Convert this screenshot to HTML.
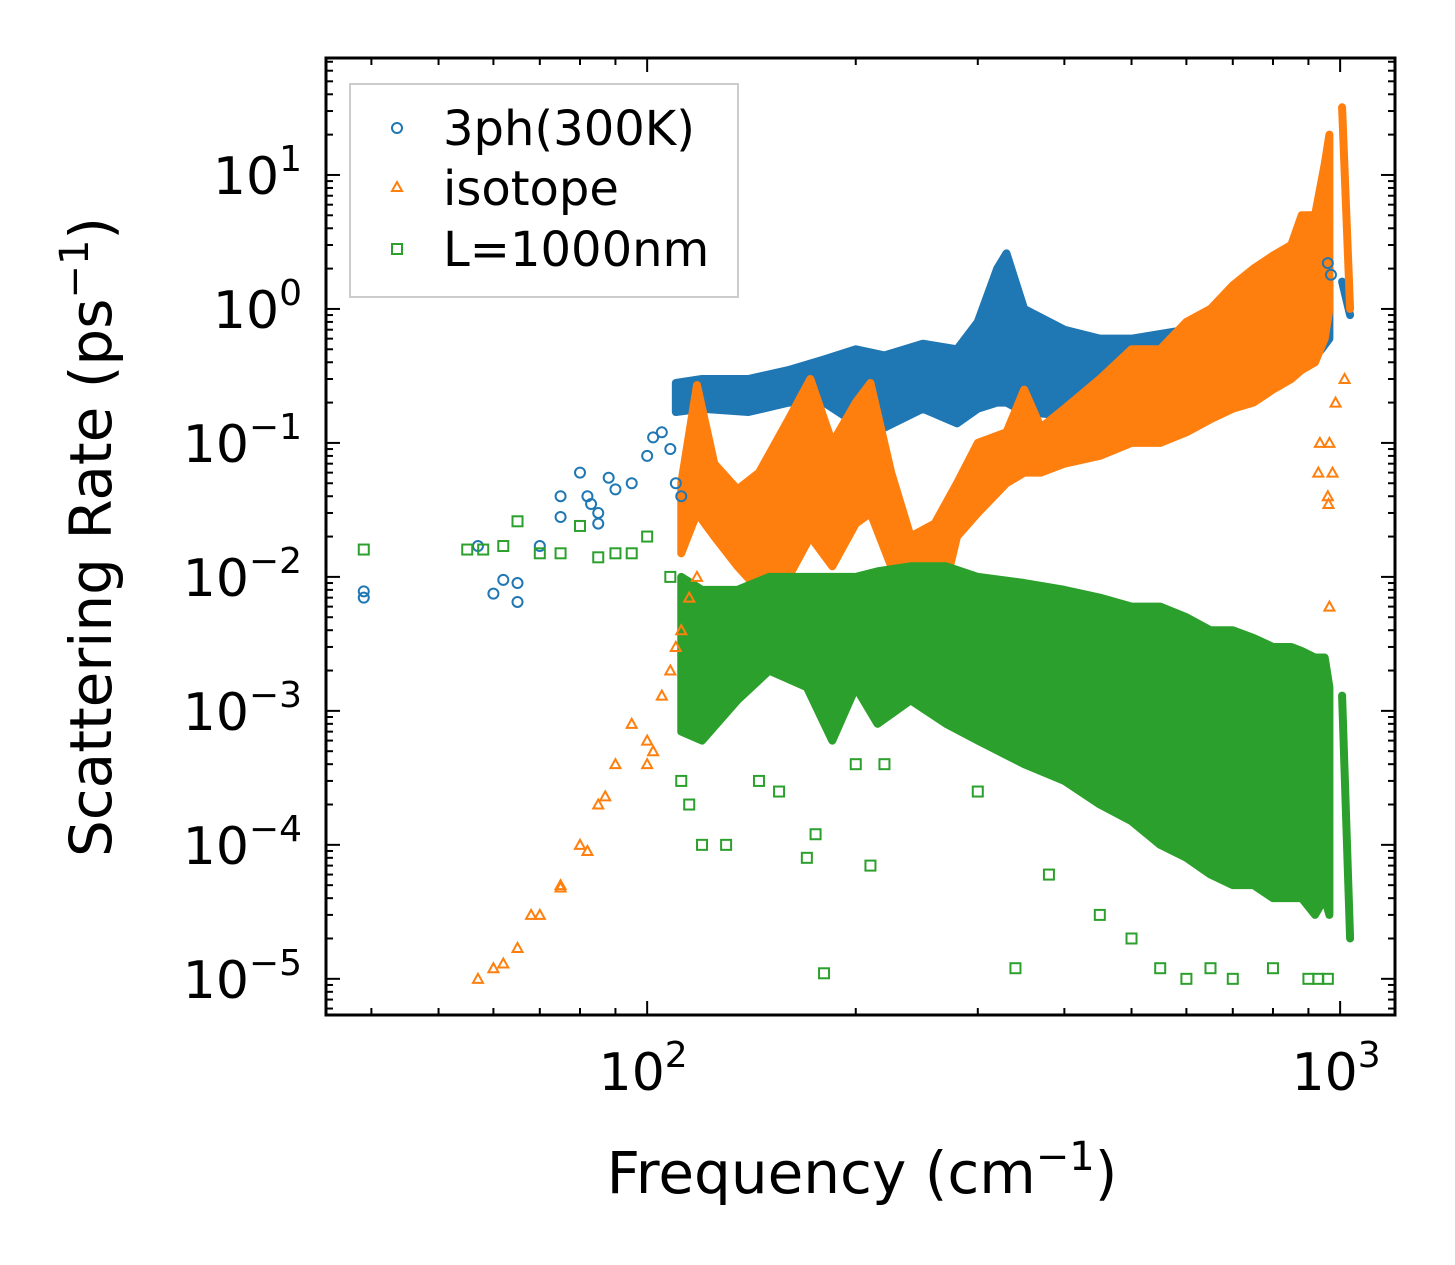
<!DOCTYPE html>
<html><head><meta charset="utf-8"><style>
html,body{margin:0;padding:0;background:#fff;}
svg{display:block;font-family:"DejaVu Sans","Liberation Sans",sans-serif;}
</style></head><body>
<svg id="chart" width="1455" height="1265" viewBox="0 0 1455 1265" xmlns="http://www.w3.org/2000/svg">
<g id="bands"></g>
<g id="points"></g>
<rect x="326" y="58" width="1069" height="957" fill="none" stroke="#000" stroke-width="3"/>
<g id="ticks"></g>
<text x="862" y="1193" font-size="58" text-anchor="middle">Frequency (cm<tspan font-size="40" dy="-23">−1</tspan><tspan dy="23">)</tspan></text>
<text transform="translate(111,537) rotate(-90)" font-size="58" text-anchor="middle">Scattering Rate (ps<tspan font-size="40" dy="-23">−1</tspan><tspan dy="23">)</tspan></text>
<g>
<rect x="350" y="84" width="388" height="213" fill="#fff" stroke="#ccc" stroke-width="2"/>
<circle cx="397" cy="128" r="5" fill="none" stroke="#1f77b4" stroke-width="2"/>
<text x="443" y="145" font-size="48">3ph(300K)</text>
<polygon points="397,182 402,191 392,191" fill="none" stroke="#ff7f0e" stroke-width="2"/>
<text x="443" y="205" font-size="48">isotope</text>
<rect x="392" y="244" width="10" height="10" fill="none" stroke="#2ca02c" stroke-width="2"/>
<text x="443" y="266" font-size="48">L=1000nm</text>
</g>
</svg>
<script>
// ---- data ----
const blueBandF  = [110,120,140,160,180,200,220,250,280,300,320,330,350,400,450,500,600,700,800,900,940,965];
const blueBandLo = [0.17,0.18,0.17,0.2,0.2,0.14,0.13,0.18,0.14,0.18,0.2,0.2,0.17,0.16,0.17,0.2,0.2,0.2,0.3,0.4,0.5,0.6];
const blueBandHi = [0.28,0.3,0.3,0.35,0.42,0.5,0.45,0.55,0.5,0.8,2.0,2.6,1.0,0.7,0.6,0.6,0.7,0.75,0.85,0.9,1.5,2.0];
const orangeBandF  = [112,118,125,135,145,160,172,185,200,210,225,240,260,280,300,330,350,370,400,450,500,550,600,650,700,750,800,850,880,920,950,965];
const orangeBandLo = [0.015,0.03,0.02,0.012,0.008,0.01,0.02,0.012,0.025,0.03,0.012,0.006,0.004,0.02,0.03,0.05,0.06,0.06,0.07,0.08,0.1,0.1,0.12,0.15,0.18,0.2,0.25,0.3,0.35,0.4,0.6,1.0];
const orangeBandHi = [0.05,0.27,0.07,0.045,0.06,0.15,0.3,0.1,0.2,0.28,0.06,0.02,0.025,0.05,0.1,0.12,0.25,0.13,0.18,0.3,0.5,0.5,0.8,1.0,1.5,2.0,2.5,3.0,5.0,5.0,12,20];
const greenBandF  = [112,120,135,150,170,185,200,215,240,270,300,350,400,450,500,550,600,650,700,750,800,850,880,920,950,965];
const greenBandLo = [0.0007,0.0006,0.0012,0.002,0.0015,0.0006,0.0015,0.0008,0.0012,0.0008,0.0006,0.0004,0.0003,0.0002,0.00015,0.0001,0.00008,0.00006,0.00005,0.00005,0.00004,0.00004,0.00004,0.00003,0.00004,0.00003];
const greenBandHi = [0.01,0.008,0.008,0.01,0.01,0.01,0.01,0.011,0.012,0.012,0.01,0.009,0.008,0.007,0.006,0.006,0.005,0.004,0.004,0.0035,0.003,0.003,0.0028,0.0025,0.0025,0.0015];
const blueSpikeF=[1020,1020]; const blueSpikeLo=[0.9,0.9]; const blueSpikeHi=[1.6,1.6];
const orangeSpikeF=[1020,1020]; const orangeSpikeLo=[1.0,1.0]; const orangeSpikeHi=[32,32];
const greenSpikeF=[1020,1020]; const greenSpikeLo=[0.00002,0.00002]; const greenSpikeHi=[0.0013,0.0013];

const blueF=[39,39,57,60,62,65,65,70,75,75,80,82,83,85,85,88,90,95,100,102,105,108,110,112,960,970];
const blueV=[0.007,0.0078,0.017,0.0075,0.0095,0.009,0.0065,0.017,0.04,0.028,0.06,0.04,0.035,0.03,0.025,0.055,0.045,0.05,0.08,0.11,0.12,0.09,0.05,0.04,2.2,1.8];
const orangeF=[57,60,62,65,68,70,75,75,80,82,85,87,90,95,100,100,102,105,108,110,112,115,118,960,962,965,975,965,985,1015,930,935];
const orangeV=[0.00001,0.000012,0.000013,0.000017,0.00003,0.00003,0.00005,0.000048,0.0001,0.00009,0.0002,0.00023,0.0004,0.0008,0.0006,0.0004,0.0005,0.0013,0.002,0.003,0.004,0.007,0.01,0.04,0.035,0.1,0.06,0.006,0.2,0.3,0.06,0.1];
const greenF=[39,55,58,62,65,70,75,80,85,90,95,100,108,112,115,120,130,145,155,170,175,180,200,210,220,300,340,380,450,500,550,600,650,700,800,900,930,960];
const greenV=[0.016,0.016,0.016,0.017,0.026,0.015,0.015,0.024,0.014,0.015,0.015,0.02,0.01,0.0003,0.0002,0.0001,0.0001,0.0003,0.00025,0.00008,0.00012,0.000011,0.0004,0.00007,0.0004,0.00025,0.000012,0.00006,0.00003,0.00002,0.000012,0.00001,0.000012,0.00001,0.000012,0.00001,0.00001,0.00001];

const xTickVals=[100,1000];
const yTickExps=[-5,-4,-3,-2,-1,0,1];

// ---- axes ----
const X0=326,X1=1395,Y0=58,Y1=1015;
const xLogMin=Math.log10(34.4), xLogMax=Math.log10(1200);
const yLogMin=-5.27, yLogMax=1.873;
function sx(v){return X0+(Math.log10(v)-xLogMin)/(xLogMax-xLogMin)*(X1-X0);}
function sy(v){return Y1-(Math.log10(v)-yLogMin)/(yLogMax-yLogMin)*(Y1-Y0);}
const NS="http://www.w3.org/2000/svg";
function mk(t,p,attrs){const e=document.createElementNS(NS,t);for(const k in attrs)e.setAttribute(k,attrs[k]);p.appendChild(e);return e;}

const bands=document.getElementById('bands');
function band(F,Lo,Hi,col,name,w){
  let pts=[];
  for(let i=0;i<F.length;i++)pts.push((sx(F[i])-(w||0))+','+sy(Hi[i]));
  for(let i=F.length-1;i>=0;i--)pts.push((sx(F[i])+(w||0))+','+sy(Lo[i]));
  const p=mk('polygon',bands,{points:pts.join(' '),fill:col,stroke:col,'stroke-width':8,'stroke-linejoin':'round'});
  
  
}
band(blueBandF,blueBandLo,blueBandHi,'#1f77b4','band-3ph');
band(blueSpikeF,blueSpikeLo,blueSpikeHi,'#1f77b4','spike-3ph',4);
band(orangeBandF,orangeBandLo,orangeBandHi,'#ff7f0e','band-isotope');
band(orangeSpikeF,orangeSpikeLo,orangeSpikeHi,'#ff7f0e','spike-isotope',4);
band(greenBandF,greenBandLo,greenBandHi,'#2ca02c','band-boundary');
band(greenSpikeF,greenSpikeLo,greenSpikeHi,'#2ca02c','spike-boundary',4);

const pg=document.getElementById('points');
for(let i=0;i<blueF.length;i++){
  const e=mk('circle',pg,{cx:sx(blueF[i]),cy:sy(blueV[i]),r:5,fill:'none',stroke:'#1f77b4','stroke-width':2});
  
  
}
for(let i=0;i<orangeF.length;i++){
  const x=sx(orangeF[i]),y=sy(orangeV[i]);
  const e=mk('polygon',pg,{points:`${x},${y-5} ${x+5},${y+4} ${x-5},${y+4}`,fill:'none',stroke:'#ff7f0e','stroke-width':2});
  
  
}
for(let i=0;i<greenF.length;i++){
  const x=sx(greenF[i]),y=sy(greenV[i]);
  const e=mk('rect',pg,{x:x-5,y:y-5,width:10,height:10,fill:'none',stroke:'#2ca02c','stroke-width':2});
  
  
}

// ---- ticks ----
const tg=document.getElementById('ticks');
function line(x1,y1,x2,y2,w){mk('line',tg,{x1,y1,x2,y2,stroke:'#000','stroke-width':w||2});}
for(let d=1;d<=3;d++){for(let m=1;m<10;m++){const v=m*Math.pow(10,d);if(v<34.4||v>1200)continue;const x=sx(v);const L=m===1?14:7;line(x,Y1,x,Y1-L);line(x,Y0,x,Y0+L);}}
for(let d=-6;d<=1;d++){for(let m=1;m<10;m++){const v=m*Math.pow(10,d);const lv=Math.log10(v);if(lv<yLogMin||lv>yLogMax)continue;const y=sy(v);const L=m===1?14:7;line(X0,y,X0+L,y);line(X1,y,X1-L,y);}}
xTickVals.forEach(v=>{
  const t=mk('text',tg,{x:sx(v)-4,y:1090,'font-size':52,'text-anchor':'middle'});
  t.innerHTML='10<tspan font-size="36" dy="-23">'+Math.log10(v)+'</tspan>';
  
  
});
yTickExps.forEach(e=>{
  const t=mk('text',tg,{x:302,y:sy(Math.pow(10,e))+19,'font-size':52,'text-anchor':'end'});
  t.innerHTML='10<tspan font-size="36" dy="-23">'+(e<0?'−'+(-e):e)+'</tspan>';
  
  
});
</script>
</body></html>
